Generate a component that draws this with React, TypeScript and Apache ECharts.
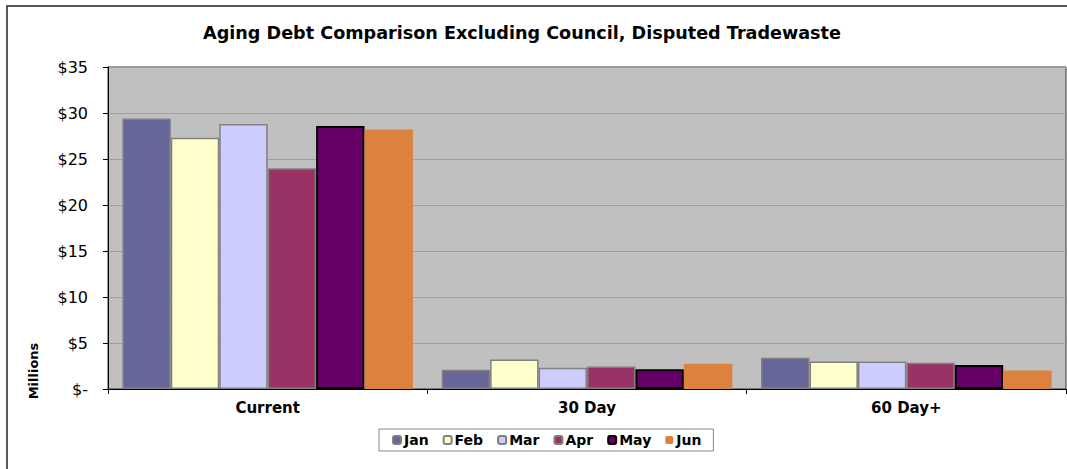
import React, { useEffect, useRef } from "react";
import * as echarts from "echarts";

const categories = ["Current", "30 Day", "60 Day+"];
const months = ["Jan", "Feb", "Mar", "Apr", "May", "Jun"];
const janValues = [29.4, 2.1, 3.4];
const febValues = [27.3, 3.2, 3.0];
const marValues = [28.8, 2.3, 3.0];
const aprValues = [24.0, 2.45, 2.85];
const mayValues = [28.6, 2.15, 2.6];
const junValues = [28.2, 2.75, 2.0];
const yTicks = [0, 5, 10, 15, 20, 25, 30, 35];

const seriesValues = [janValues, febValues, marValues, aprValues, mayValues, junValues];
const fills = ["#666699", "#FFFFCC", "#CCCCFF", "#993366", "#660066", "#DC823E"];
const borders = ["#808080", "#808080", "#808080", "#808080", "#000000", "transparent"];
const borderWidths = [1.5, 1.5, 1.5, 1.5, 2, 0];

const FONT = "DejaVu Sans, Verdana, sans-serif";

export default function App() {
  const ref = useRef<HTMLDivElement>(null);
  useEffect(() => {
    document.body.style.margin = "0";
    const chart = echarts.init(ref.current!, null, { renderer: "svg" });
    chart.setOption({
      animation: false,
      backgroundColor: "#ffffff",
      textStyle: { fontFamily: FONT },
      title: {
        text: "Aging Debt Comparison Excluding Council, Disputed Tradewaste",
        left: 517,
        top: 19,
        textAlign: "center",
        textStyle: { fontFamily: FONT, fontSize: 17.6, fontWeight: "bold", color: "#000" },
      },
      legend: {
        left: 379,
        top: 429,
        padding: [4, 12, 4, 13],
        borderColor: "#888",
        borderWidth: 1,
        itemWidth: 8,
        itemHeight: 8,
        itemGap: 14,
        textStyle: { fontFamily: FONT, fontSize: 14, fontWeight: "bold", color: "#000", padding: [0, 0, 0, -2] },
        data: months,
      },
      grid: {
        left: 108,
        top: 67,
        width: 958,
        height: 322,
        show: true,
        backgroundColor: "#C0C0C0",
        borderColor: "#333",
        borderWidth: 1,
      },
      xAxis: {
        type: "category",
        data: categories,
        axisLine: { lineStyle: { color: "#000", width: 1 } },
        axisTick: { show: true, length: 5, lineStyle: { color: "#000" } },
        axisLabel: { fontFamily: FONT, fontSize: 15, fontWeight: "bold", color: "#000", margin: 11 },
      },
      yAxis: {
        type: "value",
        min: yTicks[0],
        max: yTicks[yTicks.length - 1],
        interval: 5,
        axisLine: { show: true, lineStyle: { color: "#000", width: 1 } },
        axisTick: { show: true, length: 5, lineStyle: { color: "#000" } },
        splitLine: { lineStyle: { color: "#A0A0A0", width: 1 } },
        axisLabel: {
          fontFamily: FONT,
          fontSize: 16,
          color: "#000",
          margin: 20,
          formatter: (v: number) => (v === 0 ? "$-" : "$" + v),
        },
      },
      graphic: [
        {
          type: "rect",
          shape: { x: 7, y: 6, width: 1200, height: 600 },
          style: { fill: "none", stroke: "#222", lineWidth: 1.5 },
          silent: true,
        },
        {
          type: "text",
          x: 33,
          y: 371,
          rotation: Math.PI / 2,
          style: {
            text: "Millions",
            fontFamily: FONT,
            fontSize: 13,
            fontWeight: "bold",
            fill: "#000",
            align: "center",
            verticalAlign: "middle",
          },
        },
      ],
      series: months.map((m, i) => ({
        name: m,
        type: "bar",
        data: seriesValues[i],
        barGap: "0%",
        barCategoryGap: "9%",
        itemStyle: {
          color: fills[i],
          borderColor: borders[i],
          borderWidth: borderWidths[i],
        },
      })),
    });
    return () => chart.dispose();
  }, []);
  return <div ref={ref} style={{ width: 1067, height: 469 }} />;
}
